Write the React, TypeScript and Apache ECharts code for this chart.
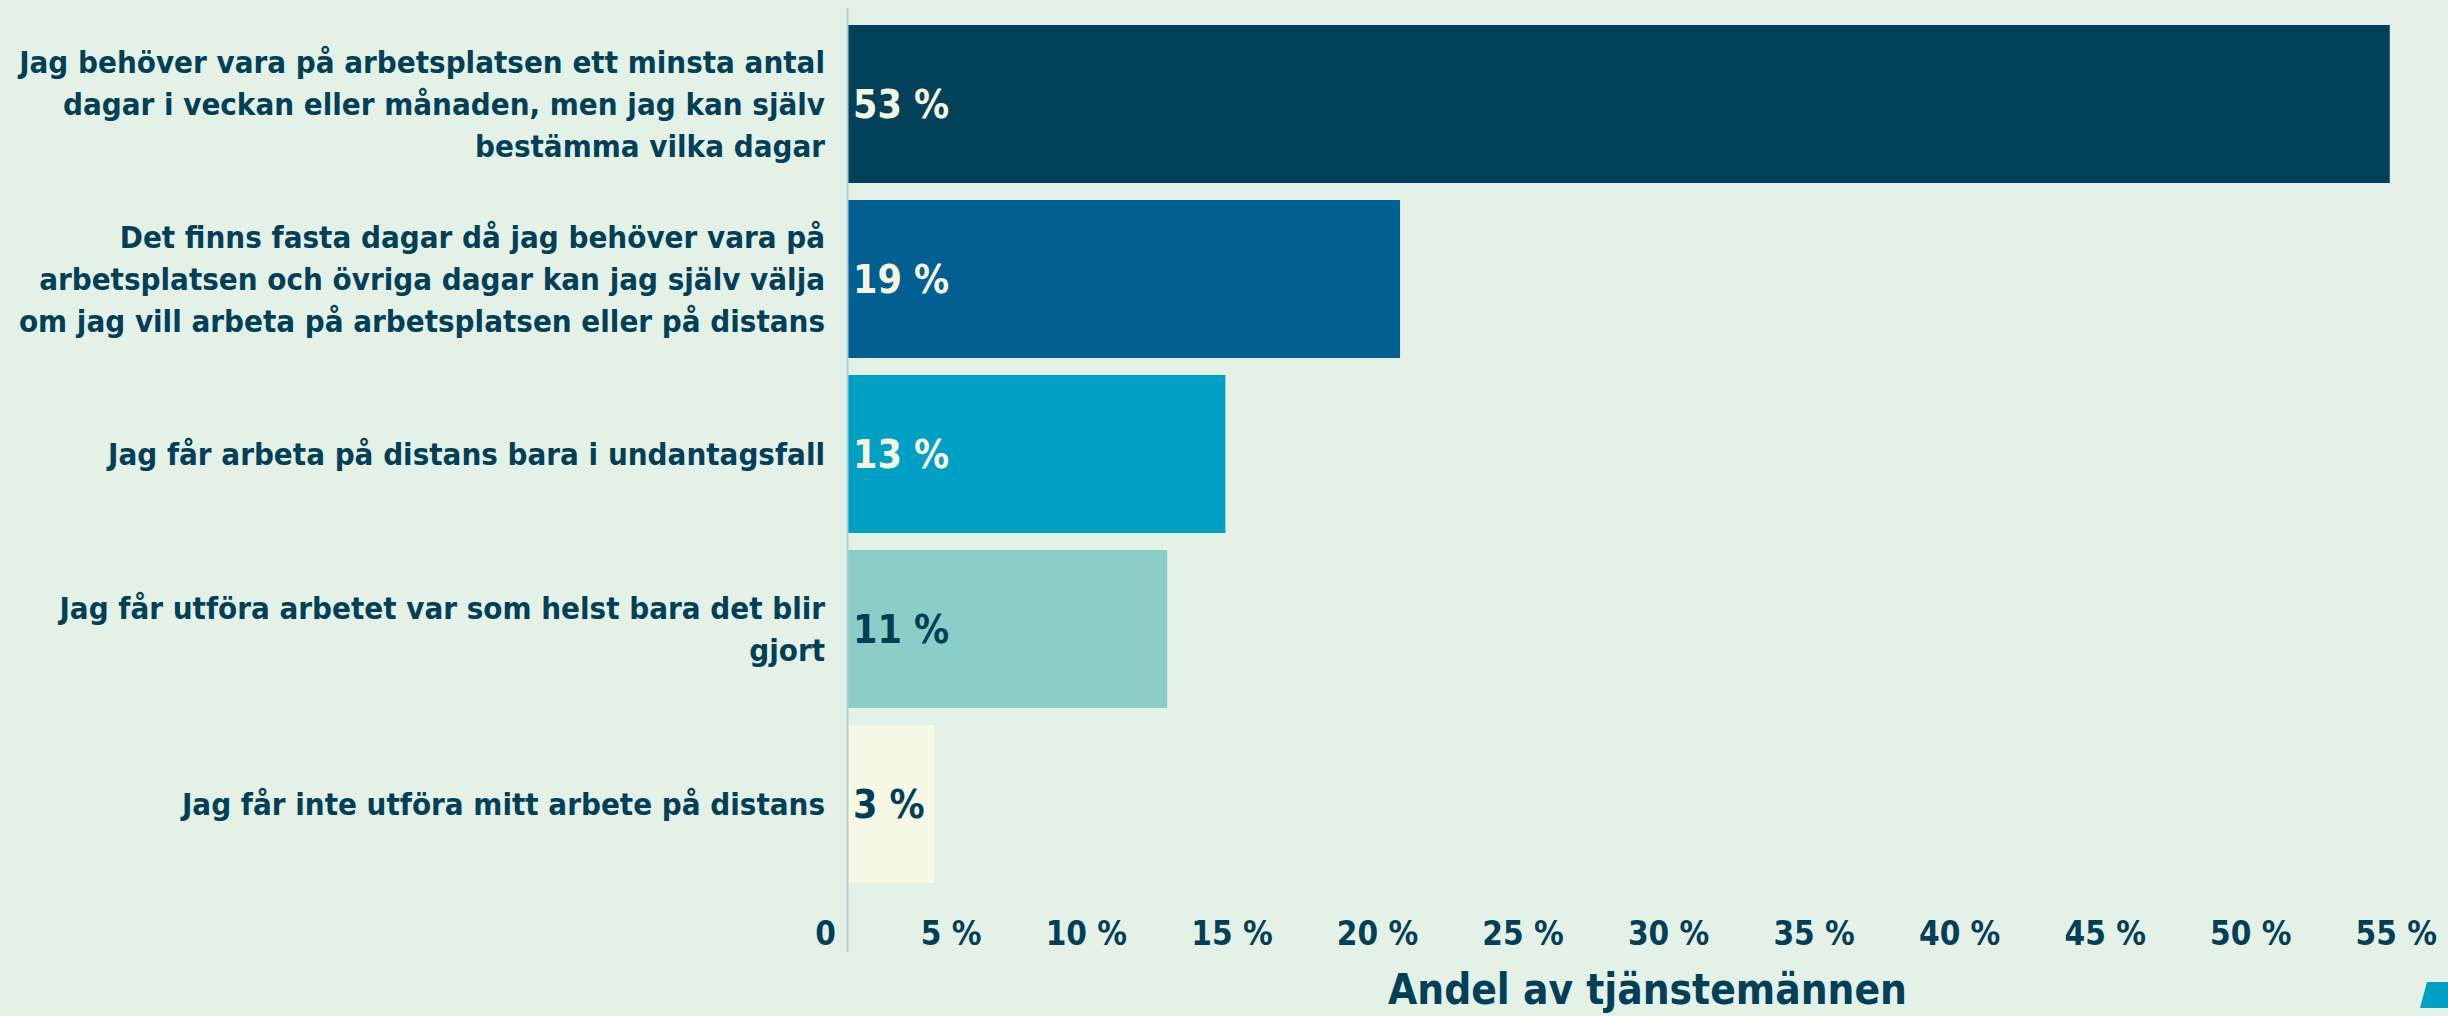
import React, { useEffect, useRef } from "react";
import * as echarts from "echarts";

const categories: string[] = [
  "Jag behöver vara på arbetsplatsen ett minsta antal\ndagar i veckan eller månaden, men jag kan själv\nbestämma vilka dagar",
  "Det finns fasta dagar då jag behöver vara på\narbetsplatsen och övriga dagar kan jag själv välja\nom jag vill arbeta på arbetsplatsen eller på distans",
  "Jag får arbeta på distans bara i undantagsfall",
  "Jag får utföra arbetet var som helst bara det blir\ngjort",
  "Jag får inte utföra mitt arbete på distans",
];
const values: number[] = [53, 19, 13, 11, 3];
const barColors: string[] = ["#01425a", "#015f91", "#009fc4", "#8acec7", "#f4f8e4"];
const labelColors: string[] = ["#f6f6e0", "#f6f6e0", "#f6f6e0", "#023f55", "#023f55"];
const xMin = 0;
const xMax = 55;
const xStep = 5;
const axisTitle = "Andel av tjänstemännen";

const FONT = "'DejaVu Sans Condensed', 'Liberation Sans Narrow', 'Noto Sans', sans-serif";
const TEXT = "#033f56";

export default function App() {
  const ref = useRef<HTMLDivElement>(null);
  useEffect(() => {
    if (!ref.current) return;
    const chart = echarts.init(ref.current, undefined, { renderer: "svg" });
    chart.setOption({
      animation: false,
      backgroundColor: "#e4f1e6",
      textStyle: { fontFamily: FONT },
      grid: {
        left: 847,
        right: 0,
        top: 16.5,
        bottom: 124.5,
        containLabel: false,
        outerBoundsMode: "none",
      },
      xAxis: {
        type: "value",
        min: xMin,
        max: xMax,
        interval: xStep,
        splitLine: { show: false },
        axisLine: { show: false },
        axisTick: { show: false },
        axisLabel: {
          color: TEXT,
          fontFamily: FONT,
          fontSize: 33,
          fontWeight: "bold",
          align: "right",
          padding: [0, 11, 0, 0],
          margin: 25,
          formatter: (v: number) => (v === 0 ? "0" : `${v} %`),
        },
        name: axisTitle,
        nameLocation: "middle",
        nameGap: 77,
        nameTextStyle: {
          color: TEXT,
          fontFamily: FONT,
          fontSize: 42,
          fontWeight: "bold",
        },
      },
      yAxis: {
        type: "category",
        inverse: true,
        data: categories,
        axisLine: { show: false },
        axisTick: { show: false },
        axisLabel: {
          color: TEXT,
          fontFamily: FONT,
          fontSize: 31,
          fontWeight: "bold",
          lineHeight: 42,
          align: "right",
          margin: 22,
        },
      },
      graphic: [
        {
          type: "line",
          shape: { x1: 847.5, y1: 8, x2: 847.5, y2: 952 },
          style: { stroke: "#b6cfd1", lineWidth: 2 },
          z: 10,
        },
        {
          type: "polygon",
          shape: { points: [[2427, 982], [2448, 982], [2448, 1008], [2420, 1008]] },
          style: { fill: "#00a0c4" },
        },
      ],
      series: [
        {
          type: "bar",
          barWidth: 158,
          data: values.map((v, i) => ({
            value: v,
            itemStyle: { color: barColors[i] },
            label: { color: labelColors[i] },
          })),
          label: {
            show: true,
            position: "insideLeft",
            distance: 6,
            fontFamily: FONT,
            fontSize: 39,
            fontWeight: "bold",
            formatter: "{c} %",
          },
        },
      ],
    });
    return () => chart.dispose();
  }, []);
  return (
    <div
      ref={ref}
      style={{ position: "fixed", left: 0, top: 0, width: 2448, height: 1016 }}
    />
  );
}
